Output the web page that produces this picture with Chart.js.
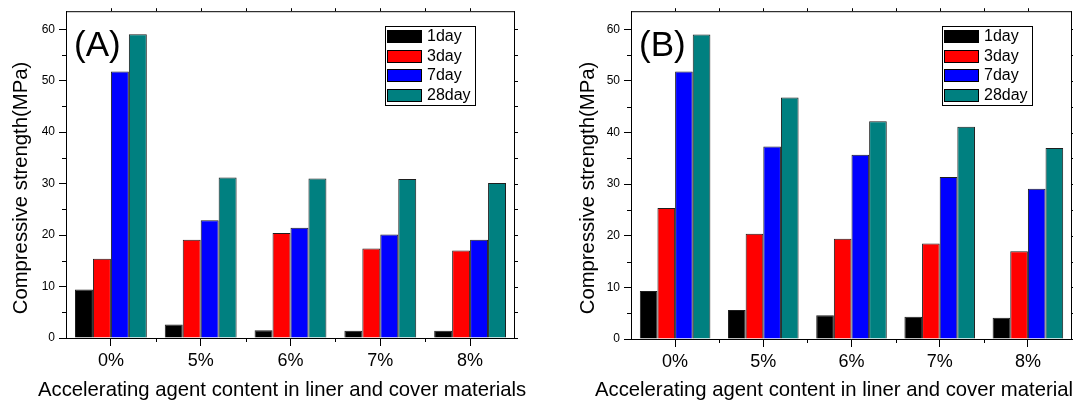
<!DOCTYPE html>
<html>
<head>
<meta charset="utf-8">
<title>Compressive strength</title>
<script src="https://cdn.jsdelivr.net/npm/chart.js@4.4.1/dist/chart.umd.min.js"></script>
<style>
  html, body { margin: 0; padding: 0; background: #fff; overflow: hidden; }
  #wrap { position: relative; width: 1073px; height: 400px; }
  canvas { position: absolute; top: 0; }
</style>
</head>
<body>
<div id="wrap">
  <canvas id="chartA" width="540" height="400" style="left:0"></canvas>
  <canvas id="chartB" width="533" height="400" style="left:540px"></canvas>
</div>
<script>
// values
var contents = ['0%', '5%', '6%', '7%', '8%'];
var ages = ['1day', '3day', '7day', '28day'];
var colors = ['#000000', '#ff0000', '#0000ff', '#008080'];
var yTicks = [0, 10, 20, 30, 40, 50, 60];

// panel (A)
var a1 = [9.4, 2.6, 1.5, 1.4, 1.4];
var a3 = [15.4, 19.1, 20.4, 17.4, 17.0];
var a7 = [51.8, 22.9, 21.4, 20.1, 19.1];
var a28 = [59.0, 31.2, 31.0, 30.9, 30.1];

// panel (B)
var b1 = [9.3, 5.6, 4.6, 4.3, 4.1];
var b3 = [25.4, 20.4, 19.4, 18.5, 17.0];
var b7 = [51.8, 37.3, 35.7, 31.4, 29.1];
var b28 = [59.0, 46.8, 42.2, 41.1, 37.0];

var xTitle = 'Accelerating agent content in liner and cover materials';
var yTitle = 'Compressive strength(MPa)';

var fam = "Arial, 'Liberation Sans', sans-serif";
Chart.defaults.font.family = fam;
Chart.defaults.color = '#000';

// top/right frame + minor ticks (Origin style box)
var framePlugin = {
  id: 'frame',
  afterDraw: function (chart) {
    var ctx = chart.ctx, a = chart.chartArea, x = chart.scales.x, y = chart.scales.y;
    var step = x.width / contents.length;
    ctx.save();
    ctx.strokeStyle = '#000';
    ctx.lineWidth = 1;
    ctx.beginPath();
    ctx.moveTo(a.left, a.top + 0.5); ctx.lineTo(a.right, a.top + 0.5);
    ctx.moveTo(a.right - 0.5, a.top); ctx.lineTo(a.right - 0.5, a.bottom);
    yTicks.forEach(function (v) {
      var py = Math.round(y.getPixelForValue(v)) + 0.5;
      var pm = Math.round(y.getPixelForValue(v + 5)) + 0.5;
      ctx.moveTo(a.right, py); ctx.lineTo(a.right + 3, py);
      if (v + 5 < y.max) {
        ctx.moveTo(a.right, pm); ctx.lineTo(a.right + 3, pm);
        ctx.moveTo(a.left, pm); ctx.lineTo(a.left - 4, pm);
      }
    });
    contents.forEach(function (c, i) {
      var px = Math.round(x.getPixelForValue(i)) + 0.5;
      var pb = Math.round(x.getPixelForValue(i) + step / 2) + 0.5;
      ctx.moveTo(px, a.top); ctx.lineTo(px, a.top - 3);
      if (i < contents.length - 1) {
        ctx.moveTo(pb, a.top); ctx.lineTo(pb, a.top - 3);
        ctx.moveTo(pb, a.bottom); ctx.lineTo(pb, a.bottom + 4);
      }
    });
    ctx.stroke();
    ctx.restore();
  }
};

// boxed legend in the upper right corner
var boxLegend = {
  id: 'boxLegend',
  afterDraw: function (chart) {
    var ctx = chart.ctx, a = chart.chartArea;
    var w = 90, h = 79;
    var left = Math.round(a.right - 40 - w), top = Math.round(a.top + 15);
    ctx.save();
    ctx.fillStyle = '#fff';
    ctx.fillRect(left, top, w, h);
    ctx.strokeStyle = '#000';
    ctx.lineWidth = 1;
    ctx.strokeRect(left + 0.5, top + 0.5, w, h);
    ctx.font = '16px ' + fam;
    ctx.textBaseline = 'middle';
    chart.data.datasets.forEach(function (ds, i) {
      var cy = Math.round(top + 10 + i * 19.7);
      ctx.fillStyle = ds.backgroundColor;
      ctx.fillRect(left + 2, cy - 6, 35, 13);
      ctx.strokeRect(left + 2.5, cy - 5.5, 34, 12);
      ctx.fillStyle = '#000';
      ctx.fillText(ds.label, left + 42, cy + 1);
    });
    ctx.restore();
  }
};

// panel tag and axis titles (Chart.js squeezes long titles to the axis width)
function textPlugin(tag, xLeft, yCenterX) {
  return {
    id: 'panelText',
    afterDraw: function (chart) {
      var ctx = chart.ctx, a = chart.chartArea;
      ctx.save();
      ctx.fillStyle = '#000';
      ctx.textBaseline = 'alphabetic';
      ctx.font = '35px ' + fam;
      ctx.fillText(tag, a.left + 8, a.top + 45);
      ctx.font = '20.3px ' + fam;
      ctx.fillText(xTitle, xLeft, 396);
      ctx.translate(yCenterX, 188);
      ctx.rotate(-Math.PI / 2);
      ctx.textAlign = 'center';
      ctx.textBaseline = 'middle';
      ctx.fillText(yTitle, 0, 0);
      ctx.restore();
    }
  };
}

function makeChart(id, series, tag, yWidth, xHeight, padRight, xLeft, yCenterX) {
  return new Chart(document.getElementById(id), {
    type: 'bar',
    data: {
      labels: contents,
      datasets: series.map(function (vals, i) {
        return {
          label: ages[i],
          data: vals,
          backgroundColor: colors[i],
          borderColor: '#1e1e1e',
          borderWidth: 1
        };
      })
    },
    options: {
      responsive: false,
      animation: false,
      layout: { padding: { top: 11, right: padRight, left: 0, bottom: 0 } },
      datasets: { bar: { categoryPercentage: 0.8, barPercentage: 1.0 } },
      plugins: { legend: { display: false }, tooltip: { enabled: false } },
      scales: {
        x: {
          offset: true,
          grid: { display: true, offset: false, drawOnChartArea: false, tickLength: 8, tickColor: '#000' },
          border: { color: '#000', width: 1 },
          ticks: { color: '#000', padding: 4, font: { size: 18 } },
          afterFit: function (s) { s.height = xHeight; }
        },
        y: {
          min: 0,
          max: 63.5,
          grid: { drawOnChartArea: false, tickLength: 7, tickColor: '#000' },
          border: { color: '#000', width: 1 },
          ticks: { stepSize: 10, includeBounds: false, color: '#000', padding: 4, font: { size: 12 } },
          afterFit: function (s) { s.width = yWidth; }
        }
      }
    },
    plugins: [framePlugin, boxLegend, textPlugin(tag, xLeft, yCenterX)]
  });
}

var chartA = makeChart('chartA', [a1, a3, a7, a28], '(A)', 66, 62, 25, 38, 21);
var chartB = makeChart('chartB', [b1, b3, b7, b28], '(B)', 91, 61, 1, 55, 48);
</script>
</body>
</html>
